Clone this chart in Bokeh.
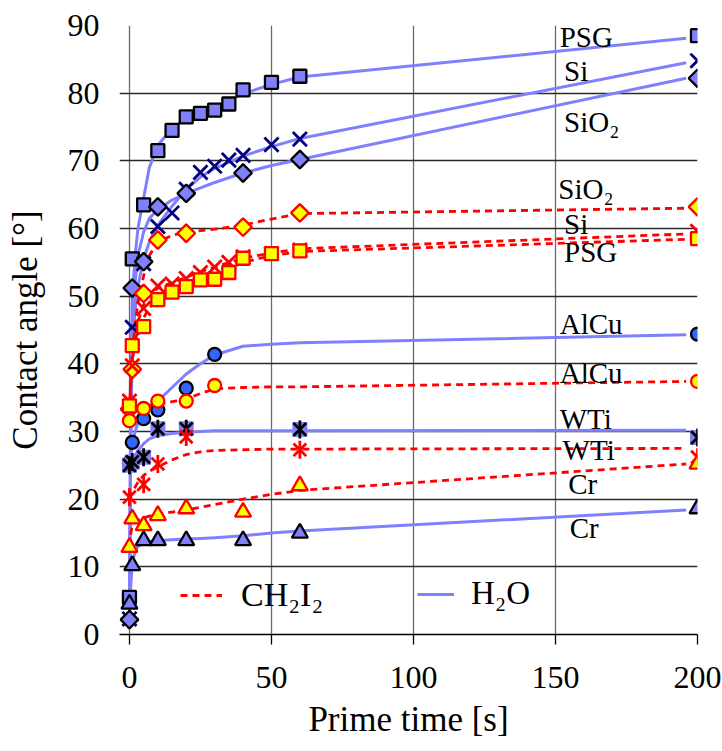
import math
from bokeh.plotting import figure
from bokeh.models import Range1d, SingleIntervalTicker, Legend, LegendItem
from bokeh.core.properties import value
from bokeh.embed import file_html
from bokeh.resources import INLINE

# ---------------- measured points: prime time [s] -> contact angle [deg] ----------------
# H2O
psg_h2o_t = [0, 1, 5, 10, 15, 20, 25, 30, 35, 40, 50, 60, 200]
psg_h2o = [5.5, 55.5, 63.5, 71.5, 74.5, 76.5, 77.0, 77.5, 78.4, 80.5, 81.6, 82.5, 88.5]
si_h2o_t = [0, 1, 5, 10, 15, 20, 25, 30, 35, 40, 50, 60, 200]
si_h2o = [2.3, 45.4, 54.8, 60.3, 62.3, 65.8, 68.3, 69.2, 70.1, 70.8, 72.4, 73.2, 84.8]
sio2_h2o_t = [0, 1, 5, 10, 20, 40, 60, 200]
sio2_h2o = [2.2, 51.2, 55.1, 63.2, 65.2, 68.2, 70.2, 82.2]
alcu_h2o_t = [0, 1, 5, 10, 20, 30, 200]
alcu_h2o = [25.4, 28.4, 31.9, 33.2, 36.4, 41.4, 44.4]
wti_h2o_t = [0, 1, 5, 10, 20, 60, 200]
wti_h2o = [25.0, 25.5, 26.2, 30.4, 30.4, 30.3, 29.1]
cr_h2o_t = [0, 1, 5, 10, 20, 40, 60, 200]
cr_h2o = [4.5, 10.2, 13.9, 13.9, 13.9, 13.9, 15.0, 18.6]
# CH2I2
sio2_ch_t = [0, 1, 5, 10, 20, 40, 60, 200]
sio2_ch = [33.3, 39.2, 50.4, 58.3, 59.3, 60.2, 62.3, 63.2]
si_ch_t = [0, 1, 5, 10, 15, 20, 25, 30, 35, 40, 50, 60, 200]
si_ch = [34.5, 39.7, 48.2, 51.5, 51.8, 52.6, 53.5, 54.3, 55.0, 55.8, 56.3, 56.8, 59.6]
psg_ch_t = [0, 1, 5, 10, 15, 20, 25, 30, 35, 40, 50, 60, 200]
psg_ch = [33.8, 42.7, 45.5, 49.5, 50.6, 51.4, 52.4, 52.5, 53.5, 55.6, 56.3, 56.7, 58.5]
alcu_ch_t = [0, 5, 10, 20, 30, 200]
alcu_ch = [31.6, 33.4, 34.5, 34.5, 36.8, 37.4]
wti_ch_t = [0, 5, 10, 20, 60, 200]
wti_ch = [20.3, 22.2, 25.2, 29.2, 27.3, 26.2]
cr_ch_t = [0, 1, 5, 10, 20, 40, 60, 200]
cr_ch = [12.9, 17.1, 16.1, 17.6, 18.6, 18.1, 22.0, 25.2]

# ---------------- fitted curves ----------------
fit_t = [0, 0.5, 1, 2, 3, 5, 7, 10, 15, 20, 25, 30, 40, 50, 60, 196]
psg_h2o_fit = [4, 35, 50, 56, 60, 64.5, 69, 72.3, 74.8, 76.3, 77.2, 78.0, 79.9, 81.3, 82.4, 88.1]
si_h2o_fit = [3, 30, 42, 48, 51.5, 55.5, 58, 60.5, 63.3, 65.8, 67.6, 68.9, 70.7, 72.1, 73.3, 84.5]
sio2_h2o_fit = [2, 32, 45, 52, 56, 59.5, 61.5, 62.8, 64.2, 65.2, 66.0, 66.8, 68.2, 69.3, 70.2, 82.2]
alcu_h2o_fit = [25, 26.5, 28, 30, 31.3, 33, 33.8, 34.5, 36.5, 38.5, 40.0, 41.3, 42.6, 42.9, 43.1, 44.3]
wti_h2o_fit = [24, 24.7, 25.5, 26.5, 27.2, 28.2, 28.9, 29.4, 29.7, 29.9, 30.0, 30.1, 30.1, 30.1, 30.1, 30.2]
cr_h2o_fit = [3, 7.5, 10.5, 12.3, 13.0, 13.5, 13.7, 13.9, 14.0, 14.1, 14.2, 14.3, 14.6, 15.0, 15.3, 18.4]
sio2_ch_fit = [33, 37, 41, 46, 49, 53, 56, 58.0, 59.0, 59.4, 59.7, 59.9, 60.5, 61.4, 62.2, 63.0]
si_ch_fit = [34, 37.5, 40, 44, 46.3, 48.7, 50.2, 51.2, 52.0, 52.8, 53.6, 54.3, 55.6, 56.4, 57.0, 59.2]
psg_ch_fit = [33, 38, 41.5, 43.5, 44.8, 46.8, 48.3, 49.6, 50.6, 51.4, 52.2, 53.0, 55.0, 56.0, 56.6, 58.4]
alcu_ch_fit = [31.5, 32, 32.4, 32.9, 33.2, 33.6, 33.8, 34.0, 34.4, 34.8, 35.6, 36.3, 36.5, 36.6, 36.6, 37.4]
wti_ch_fit = [20, 20.5, 21, 21.8, 22.5, 23.5, 24.1, 24.8, 25.8, 26.6, 27.0, 27.2, 27.3, 27.4, 27.4, 27.5]
cr_ch_fit = [13, 15, 16, 16.5, 16.8, 17.2, 17.5, 17.8, 18.1, 18.4, 18.8, 19.2, 20.0, 20.7, 21.3, 25.2]

# ---------------- texts ----------------
liquids = ["CH\u2082I\u2082", "H\u2082O"]
curve_labels = ["PSG", "Si", "SiO\u2082", "SiO\u2082", "Si", "PSG",
                "AlCu", "AlCu", "WTi", "WTi", "Cr", "Cr"]
x_title = "Prime time [s]"
y_title = "Contact angle [\u00b0]"

# label anchor positions (layout)
label_x = [151.5, 153.0, 153.0, 151.0, 153.0, 153.0, 151.5, 151.5, 151.5, 152.5, 154.5, 155.0]
label_y = [88.3, 83.3, 75.8, 65.8, 60.6, 56.6, 45.9, 38.7, 31.8, 27.3, 22.3, 15.7]

FONT = value("Liberation Serif")
BLUE_LINE = "#8080FF"
BLUE_FILL = "#8080FF"
NAVY = "#000080"
RED = "#FF0000"
YELLOW = "#FFFF00"

p = figure(width=722, height=751, output_backend="svg", toolbar_location=None,
           x_range=Range1d(-3.5, 200), y_range=Range1d(0, 90),
           min_border_left=119, min_border_right=25, min_border_top=25, min_border_bottom=117)
p.outline_line_color = None

# axes
p.xaxis.ticker = SingleIntervalTicker(interval=50)
p.yaxis.ticker = SingleIntervalTicker(interval=10)
p.xgrid.ticker = SingleIntervalTicker(interval=50)
p.ygrid.ticker = SingleIntervalTicker(interval=10)
p.xgrid.grid_line_color = "#6a6a6a"
p.xgrid.grid_line_width = 1.3
p.ygrid.grid_line_color = "#2a2a2a"
p.ygrid.grid_line_width = 1.3

for ax in (p.xaxis[0], p.yaxis[0]):
    ax.major_label_text_font = "Liberation Serif"
    ax.major_label_text_font_size = "32px"
    ax.major_label_text_color = "black"
    ax.axis_label_text_font = "Liberation Serif"
    ax.axis_label_text_font_size = "35px"
    ax.axis_label_text_font_style = "normal"
    ax.axis_label_text_color = "black"
    ax.minor_tick_line_color = None

p.xaxis.axis_label = x_title
p.xaxis.axis_line_color = "black"
p.xaxis.axis_line_width = 1.5
p.xaxis.major_tick_line_color = "black"
p.xaxis.major_tick_line_width = 1.3
p.xaxis.major_tick_out = 10
p.xaxis.major_tick_in = 0
p.xaxis.major_label_standoff = 22
p.xaxis.axis_label_standoff = 9

p.yaxis.axis_label = y_title
p.yaxis.axis_line_color = None
p.yaxis.major_tick_line_color = None
p.yaxis.major_tick_out = 0
p.yaxis.major_tick_in = 0
p.yaxis.major_label_standoff = 16
p.yaxis.axis_label_standoff = 20

# fitted curves
h2o_fits = [psg_h2o_fit, si_h2o_fit, sio2_h2o_fit, alcu_h2o_fit, wti_h2o_fit, cr_h2o_fit]
ch_fits = [sio2_ch_fit, si_ch_fit, psg_ch_fit, alcu_ch_fit, wti_ch_fit, cr_ch_fit]
h2o_lines = [p.line(fit_t, f, line_color=BLUE_LINE, line_width=3) for f in h2o_fits]
ch_lines = [p.line(fit_t, f, line_color=RED, line_width=2.8, line_dash="7 5") for f in ch_fits]

# H2O markers
p.scatter(psg_h2o_t, psg_h2o, marker="square", size=13, fill_color=BLUE_FILL, line_color="black", line_width=2.3)
p.scatter(si_h2o_t, si_h2o, marker="x", size=20, line_color=NAVY, line_width=2.8)
p.scatter(sio2_h2o_t, sio2_h2o, marker="square", angle=math.pi / 4, size=12.5, fill_color=BLUE_FILL, line_color="black", line_width=2.3)
p.scatter(alcu_h2o_t, alcu_h2o, marker="circle", size=13, fill_color="#3366FF", line_color="black", line_width=2.3)
p.scatter(wti_h2o_t, wti_h2o, marker="square", size=15, fill_color=BLUE_FILL, line_color=None)
p.scatter(wti_h2o_t, wti_h2o, marker="x", size=18, line_color="black", line_width=2.8)
p.scatter(wti_h2o_t, wti_h2o, marker="dash", angle=math.pi / 2, size=18, line_color="black", line_width=2.8)
p.scatter(cr_h2o_t, cr_h2o, marker="triangle", size=16, fill_color=BLUE_FILL, line_color="black", line_width=2.3)

# CH2I2 markers
p.scatter(sio2_ch_t, sio2_ch, marker="square", angle=math.pi / 4, size=12.5, fill_color=YELLOW, line_color=RED, line_width=2.3)
p.scatter(si_ch_t, si_ch, marker="x", size=20, line_color=RED, line_width=2.8)
p.scatter(psg_ch_t, psg_ch, marker="square", size=13, fill_color=YELLOW, line_color=RED, line_width=2.3)
p.scatter(alcu_ch_t, alcu_ch, marker="circle", size=13, fill_color=YELLOW, line_color=RED, line_width=2.3)
p.scatter(wti_ch_t, wti_ch, marker="x", size=18, line_color=RED, line_width=2.8)
p.scatter(wti_ch_t, wti_ch, marker="dash", angle=math.pi / 2, size=18, line_color=RED, line_width=2.8)
p.scatter(cr_ch_t, cr_ch, marker="triangle", size=16, fill_color=YELLOW, line_color=RED, line_width=2.3)

# curve labels
p.text(x=label_x, y=label_y, text=curve_labels, text_font=FONT, text_font_size="29px",
       text_baseline="middle", text_align="left", text_color="black")

# legends (two separate single-item legends)
legend_specs = ((liquids[0], ch_lines[0], (61, 20), 42, 19, "34px"),
                (liquids[1], h2o_lines[0], (298, 22), 37, 17, "33px"))
for label, rend, loc, gw, stand, fs in legend_specs:
    lg = Legend(items=[LegendItem(label=label, renderers=[rend])], location=loc,
                orientation="horizontal", padding=0, margin=0, spacing=0,
                glyph_width=gw, glyph_height=20, label_standoff=stand,
                label_text_font="Liberation Serif", label_text_font_size=fs,
                label_text_color="black",
                border_line_color=None, background_fill_alpha=0)
    p.add_layout(lg)

open("out.html", "w").write(file_html(p, INLINE))
